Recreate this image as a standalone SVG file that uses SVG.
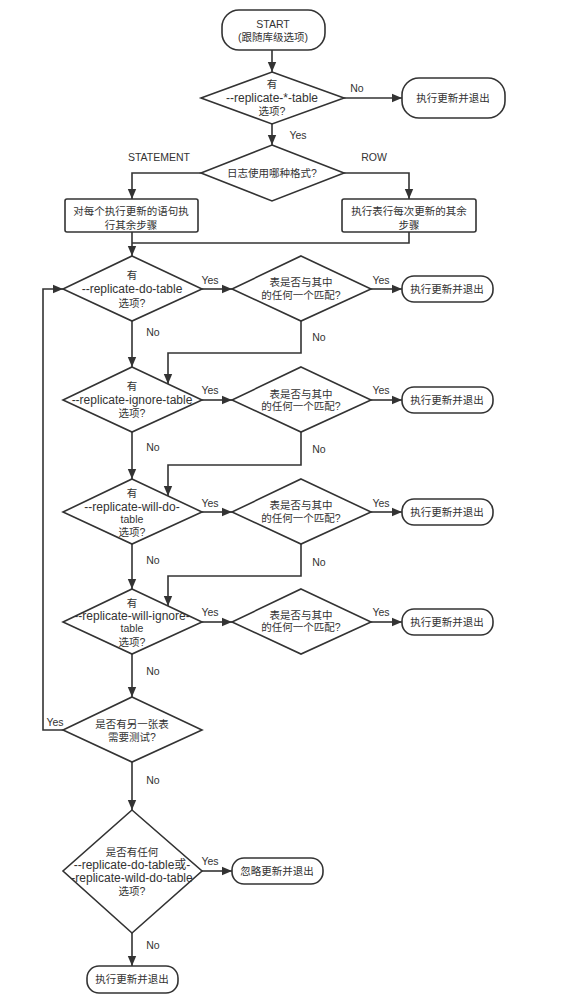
<svg xmlns="http://www.w3.org/2000/svg" width="561" height="998" viewBox="0 0 561 998">
<style>
.s{fill:#fff;stroke:#333;stroke-width:1.6}
.c{fill:none;stroke:#333;stroke-width:1.6}
text{font-family:"Liberation Sans","Noto Sans CJK SC",sans-serif;font-size:10.5px;fill:#333;text-anchor:middle}
.r{font-size:12px}
</style>
<defs>
<marker id="a" markerUnits="userSpaceOnUse" markerWidth="10" markerHeight="10" viewBox="0 0 10 10" refX="10" refY="5" orient="auto">
<path d="M0,0.8 L10,5 L0,9.2 z" fill="#333"/>
</marker>
</defs>
<rect width="561" height="998" fill="#fff"/>
<g id="connectors" class="c">
<path d="M272,50 V72" marker-end="url(#a)"/>
<path d="M344,98 H402" marker-end="url(#a)"/>
<path d="M272,124 V145" marker-end="url(#a)"/>
<path d="M201,173 H132 V199" marker-end="url(#a)"/>
<path d="M344,173 H409 V199" marker-end="url(#a)"/>
<path d="M409,232 V243 H132"/>
<path d="M132,232 V256" marker-end="url(#a)"/>
<path d="M202,289 H232" marker-end="url(#a)"/>
<path d="M371,289 H402" marker-end="url(#a)"/>
<path d="M132,321 V367" marker-end="url(#a)"/>
<path d="M301,321 V353 H168 V384" marker-end="url(#a)"/>
<path d="M202,400 H232" marker-end="url(#a)"/>
<path d="M371,400 H402" marker-end="url(#a)"/>
<path d="M132,432 V479" marker-end="url(#a)"/>
<path d="M301,432 V465 H168 V496" marker-end="url(#a)"/>
<path d="M202,512 H232" marker-end="url(#a)"/>
<path d="M371,512 H402" marker-end="url(#a)"/>
<path d="M132,544 V589" marker-end="url(#a)"/>
<path d="M301,544 V576 H168 V606" marker-end="url(#a)"/>
<path d="M202,622 H232" marker-end="url(#a)"/>
<path d="M371,622 H402" marker-end="url(#a)"/>
<path d="M132,654 V697" marker-end="url(#a)"/>
<path d="M63,730 H43 V289 H63" marker-end="url(#a)"/>
<path d="M132,762 V810" marker-end="url(#a)"/>
<path d="M202,871 H232" marker-end="url(#a)"/>
<path d="M132,933 V966" marker-end="url(#a)"/>
</g>
<g id="labels">
<text x="357" y="92">No</text>
<text x="298" y="139">Yes</text>
<text x="159" y="161">STATEMENT</text>
<text x="374" y="161">ROW</text>
<text x="210" y="284">Yes</text>
<text x="381" y="284">Yes</text>
<text x="153" y="336">No</text>
<text x="319" y="341">No</text>
<text x="210" y="394">Yes</text>
<text x="381" y="394">Yes</text>
<text x="153" y="451">No</text>
<text x="319" y="453">No</text>
<text x="210" y="507">Yes</text>
<text x="381" y="507">Yes</text>
<text x="153" y="564">No</text>
<text x="319" y="566">No</text>
<text x="210" y="616">Yes</text>
<text x="381" y="616">Yes</text>
<text x="153" y="675">No</text>
<text x="55" y="726">Yes</text>
<text x="153" y="784">No</text>
<text x="210" y="865">Yes</text>
<text x="153" y="949">No</text>
</g>
<g id="start">
<rect class="s" x="222" y="10" width="103" height="40" rx="17"/>
<text x="273" y="28">START</text>
<text x="273" y="41">(跟随库级选项)</text>
</g>
<g id="d1">
<path class="s" d="M272,72 L344,98 L272,124 L201,98 z"/>
<text x="272" y="88">有</text>
<text class="r" x="272" y="102">--replicate-*-table</text>
<text x="272" y="115">选项?</text>
</g>
<g id="exit0">
<rect class="s" x="402" y="78" width="103" height="40" rx="17"/>
<text x="453" y="102">执行更新并退出</text>
</g>
<g id="d2">
<path class="s" d="M272,145 L344,173 L272,201 L201,173 z"/>
<text x="272" y="177">日志使用哪种格式?</text>
</g>
<g id="box1">
<rect class="s" x="65" y="199" width="133" height="33" rx="2"/>
<text x="131" y="215">对每个执行更新的语句执</text>
<text x="131" y="229">行其余步骤</text>
</g>
<g id="box2">
<rect class="s" x="342" y="199" width="134" height="33" rx="2"/>
<text x="409" y="215">执行表行每次更新的其余</text>
<text x="409" y="229">步骤</text>
</g>
<g id="d3">
<path class="s" d="M132,256 L202,289 L132,321 L63,289 z"/>
<text x="132" y="279">有</text>
<text class="r" x="132" y="293">--replicate-do-table</text>
<text x="132" y="307">选项?</text>
</g>
<g id="m1">
<path class="s" d="M301,256 L371,289 L301,321 L232,289 z"/>
<text x="301" y="286">表是否与其中</text>
<text x="301" y="299">的任何一个匹配?</text>
</g>
<g id="exit1">
<rect class="s" x="402" y="276" width="91" height="26" rx="12"/>
<text x="447" y="293">执行更新并退出</text>
</g>
<g id="d4">
<path class="s" d="M132,367 L202,400 L132,432 L63,400 z"/>
<text x="132" y="390">有</text>
<text class="r" x="132" y="404">--replicate-ignore-table</text>
<text x="132" y="417">选项?</text>
</g>
<g id="m2">
<path class="s" d="M301,367 L371,400 L301,432 L232,400 z"/>
<text x="301" y="398">表是否与其中</text>
<text x="301" y="410">的任何一个匹配?</text>
</g>
<g id="exit2">
<rect class="s" x="402" y="387" width="91" height="26" rx="12"/>
<text x="447" y="404">执行更新并退出</text>
</g>
<g id="d5">
<path class="s" d="M132,479 L202,512 L132,544 L63,512 z"/>
<text x="132" y="497">有</text>
<text class="r" x="132" y="511">--replicate-will-do-</text>
<text x="132" y="523">table</text>
<text x="132" y="536">选项?</text>
</g>
<g id="m3">
<path class="s" d="M301,479 L371,512 L301,544 L232,512 z"/>
<text x="301" y="509">表是否与其中</text>
<text x="301" y="522">的任何一个匹配?</text>
</g>
<g id="exit3">
<rect class="s" x="402" y="499" width="91" height="26" rx="12"/>
<text x="447" y="516">执行更新并退出</text>
</g>
<g id="d6">
<path class="s" d="M132,589 L202,622 L132,654 L63,622 z"/>
<text x="132" y="607">有</text>
<text class="r" x="132" y="620">--replicate-will-ignore-</text>
<text x="132" y="632">table</text>
<text x="132" y="646">选项?</text>
</g>
<g id="m4">
<path class="s" d="M301,589 L371,622 L301,654 L232,622 z"/>
<text x="301" y="619">表是否与其中</text>
<text x="301" y="631">的任何一个匹配?</text>
</g>
<g id="exit4">
<rect class="s" x="402" y="609" width="91" height="26" rx="12"/>
<text x="447" y="626">执行更新并退出</text>
</g>
<g id="d7">
<path class="s" d="M132,697 L202,730 L132,762 L63,730 z"/>
<text x="132" y="728">是否有另一张表</text>
<text x="132" y="741">需要测试?</text>
</g>
<g id="d8">
<path class="s" d="M132,810 L202,871 L132,933 L63,871 z"/>
<text x="132" y="856">是否有任何</text>
<text class="r" x="132" y="869">--replicate-do-table或-</text>
<text class="r" x="132" y="882">-replicate-wild-do-table</text>
<text x="132" y="895">选项?</text>
</g>
<g id="ignore">
<rect class="s" x="232" y="858" width="91" height="26" rx="12"/>
<text x="277" y="875">忽略更新并退出</text>
</g>
<g id="exit5">
<rect class="s" x="87" y="966" width="91" height="27" rx="12"/>
<text x="132" y="983">执行更新并退出</text>
</g>
</svg>
